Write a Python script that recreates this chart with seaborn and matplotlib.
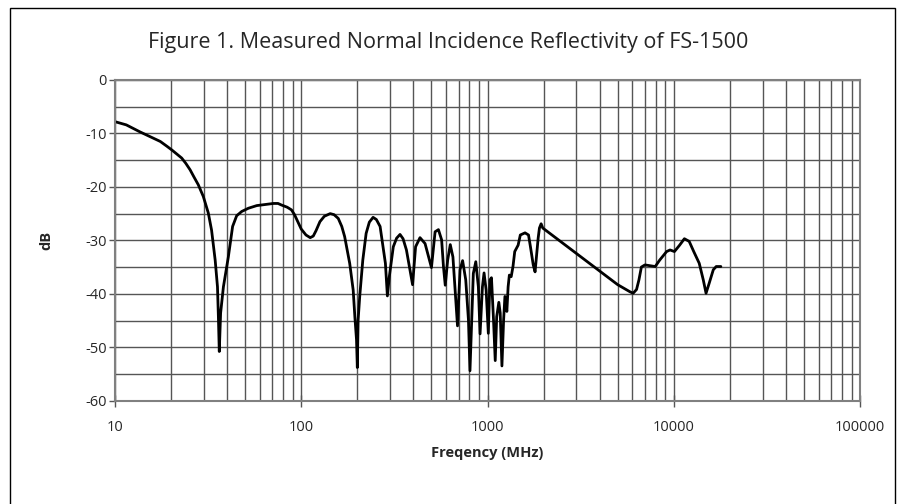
import numpy as np
import pandas as pd
import seaborn as sns
import matplotlib.pyplot as plt
from matplotlib.patches import Rectangle
from matplotlib.ticker import FixedLocator, FuncFormatter, NullFormatter

freq_mhz = [
    10, 11.5, 13.6, 15, 17.5, 19, 20.2, 22.8, 24, 25.3, 26.5, 28, 29.8, 31.7, 33, 34.5,
    35.5, 35.9, 36.3, 36.9, 38.2, 40.6, 42.8, 45, 47.9, 52, 57.7, 64, 70.9, 75, 78.4,
    84, 88.6, 92, 96.7, 100, 106, 111.7, 116, 120, 126, 133, 143, 150, 158, 165, 171,
    182, 190, 194, 198, 200, 202, 206, 214, 223, 232, 243, 253, 265, 283,
    290, 297, 312, 325, 339, 352, 367, 396, 411, 434, 462, 500, 523, 545, 567, 580, 593,
    611, 631, 652, 670, 690, 712, 735, 764, 790, 805, 822, 839, 865, 893, 912,
    939, 958, 983, 1010, 1030, 1050, 1077, 1100, 1120, 1150, 1170, 1195, 1220,
    1240, 1270, 1290, 1310, 1340, 1370, 1400, 1460, 1500, 1590, 1660, 1700,
    1760, 1800, 1830, 1870, 1900, 1940, 1980, 5000, 5800, 6050, 6310, 6500,
    6700, 7000, 7950, 8400, 9150, 9550, 10080, 10750, 11400, 12100, 12800,
    13700, 14400, 14900, 15500, 16300, 16900, 17900,
]
refl_db = [
    -7.8, -8.4, -9.7, -10.4, -11.5, -12.4, -13.1, -14.6, -15.6, -16.8, -18.1, -19.6, -21.8, -24.9, -28.1, -33.7,
    -38.7, -44.3, -50.8, -43.6, -38.7, -33.1, -27.4, -25.4, -24.6, -24.0, -23.5, -23.3, -23.1, -23.1, -23.4,
    -23.8, -24.3, -25.2, -26.8, -27.9, -29.0, -29.5, -29.2, -28.2, -26.5, -25.5, -25.0, -25.2, -25.9, -27.4, -29.3,
    -34.3, -39.3, -44.3, -48.6, -53.8, -44.9, -40.5, -33.7, -28.7, -26.6, -25.7, -26.1, -27.4, -34.3,
    -40.4, -36.8, -31.2, -29.6, -28.9, -29.7, -31.8, -38.3, -31.2, -29.5, -30.6, -35.1, -28.4, -28.0, -29.9, -34.9, -38.4,
    -33.7, -30.8, -33.1, -39.3, -46.0, -35.5, -33.8, -37.4, -44.9, -54.4, -44.9, -36.2, -34.0, -38.7, -47.5,
    -38.7, -36.1, -39.3, -47.4, -37.4, -37.0, -44.9, -52.5, -44.3, -41.6, -43.6, -53.5, -44.9,
    -40.5, -43.3, -38.7, -36.5, -36.8, -34.9, -32.1, -30.9, -29.0, -28.6, -29.0, -31.2,
    -34.6, -35.9, -33.1, -29.6, -27.7, -26.9, -27.7, -38.3, -39.6, -39.9, -39.2, -37.4,
    -35.0, -34.6, -34.9, -33.7, -32.1, -31.8, -32.1, -30.9, -29.7, -30.2, -32.1,
    -34.3, -37.4, -39.9, -38.0, -35.5, -34.9, -34.9,
]

x_major = [10, 100, 1000, 10000, 100000]
y_major = [0, -10, -20, -30, -40, -50, -60]

df = pd.DataFrame({"freq": freq_mhz, "db": refl_db})

sns.set_theme(style="white")
plt.rcParams["font.family"] = ["Open Sans", "DejaVu Sans"]
plt.rcParams["axes.unicode_minus"] = False

fig = plt.figure(figsize=(8.97, 5.04), dpi=100)
ax = fig.add_axes([0.1282, 0.205, 0.8306, 0.6363])

sns.lineplot(data=df, x="freq", y="db", sort=False, estimator=None,
             color="black", linewidth=2.0, ax=ax)

ax.set_xscale("log")
ax.set_xlim(10, 100000)
ax.set_ylim(-60, 0)

# grid: every minor decade step on x, every 5 dB on y
x_minor = [m * 10 ** d for d in range(1, 5) for m in range(2, 10)]
ax.xaxis.set_major_locator(FixedLocator(x_major))
ax.xaxis.set_minor_locator(FixedLocator(x_minor))
ax.xaxis.set_major_formatter(FuncFormatter(lambda v, p: f"{int(round(v))}"))
ax.xaxis.set_minor_formatter(NullFormatter())
ax.yaxis.set_major_locator(FixedLocator(y_major))
ax.yaxis.set_minor_locator(FixedLocator(np.arange(-55, 0, 10)))
ax.grid(True, which="both", color="#555555", linewidth=1.0)
ax.set_axisbelow(True)

for s in ax.spines.values():
    s.set_color("#808080")
    s.set_linewidth(1.5)

ax.tick_params(axis="x", which="major", direction="inout", length=8, width=1,
               color="#555555", pad=10, labelsize=10.5, bottom=True)
ax.tick_params(axis="y", which="major", direction="out", length=4, width=1,
               color="#555555", pad=2, labelsize=10.5, left=True)
ax.tick_params(which="minor", length=0)

ax.set_xlabel("Freqency (MHz)", fontsize=10.5, fontweight="bold", labelpad=8)
ax.set_ylabel("dB", fontsize=10.5, fontweight="bold")
ax.yaxis.set_label_coords(-0.083, 0.5)

fig.text(0.4995, 0.915, "Figure 1. Measured Normal Incidence Reflectivity of FS-1500",
         ha="center", va="center", fontsize=15.5)

fig.patches.append(Rectangle((10 / 897, -0.1), 885 / 897, 1.1 - 8 / 504,
                             transform=fig.transFigure, fill=False,
                             edgecolor="black", linewidth=1.0))

fig.savefig("out.png", dpi=100)
